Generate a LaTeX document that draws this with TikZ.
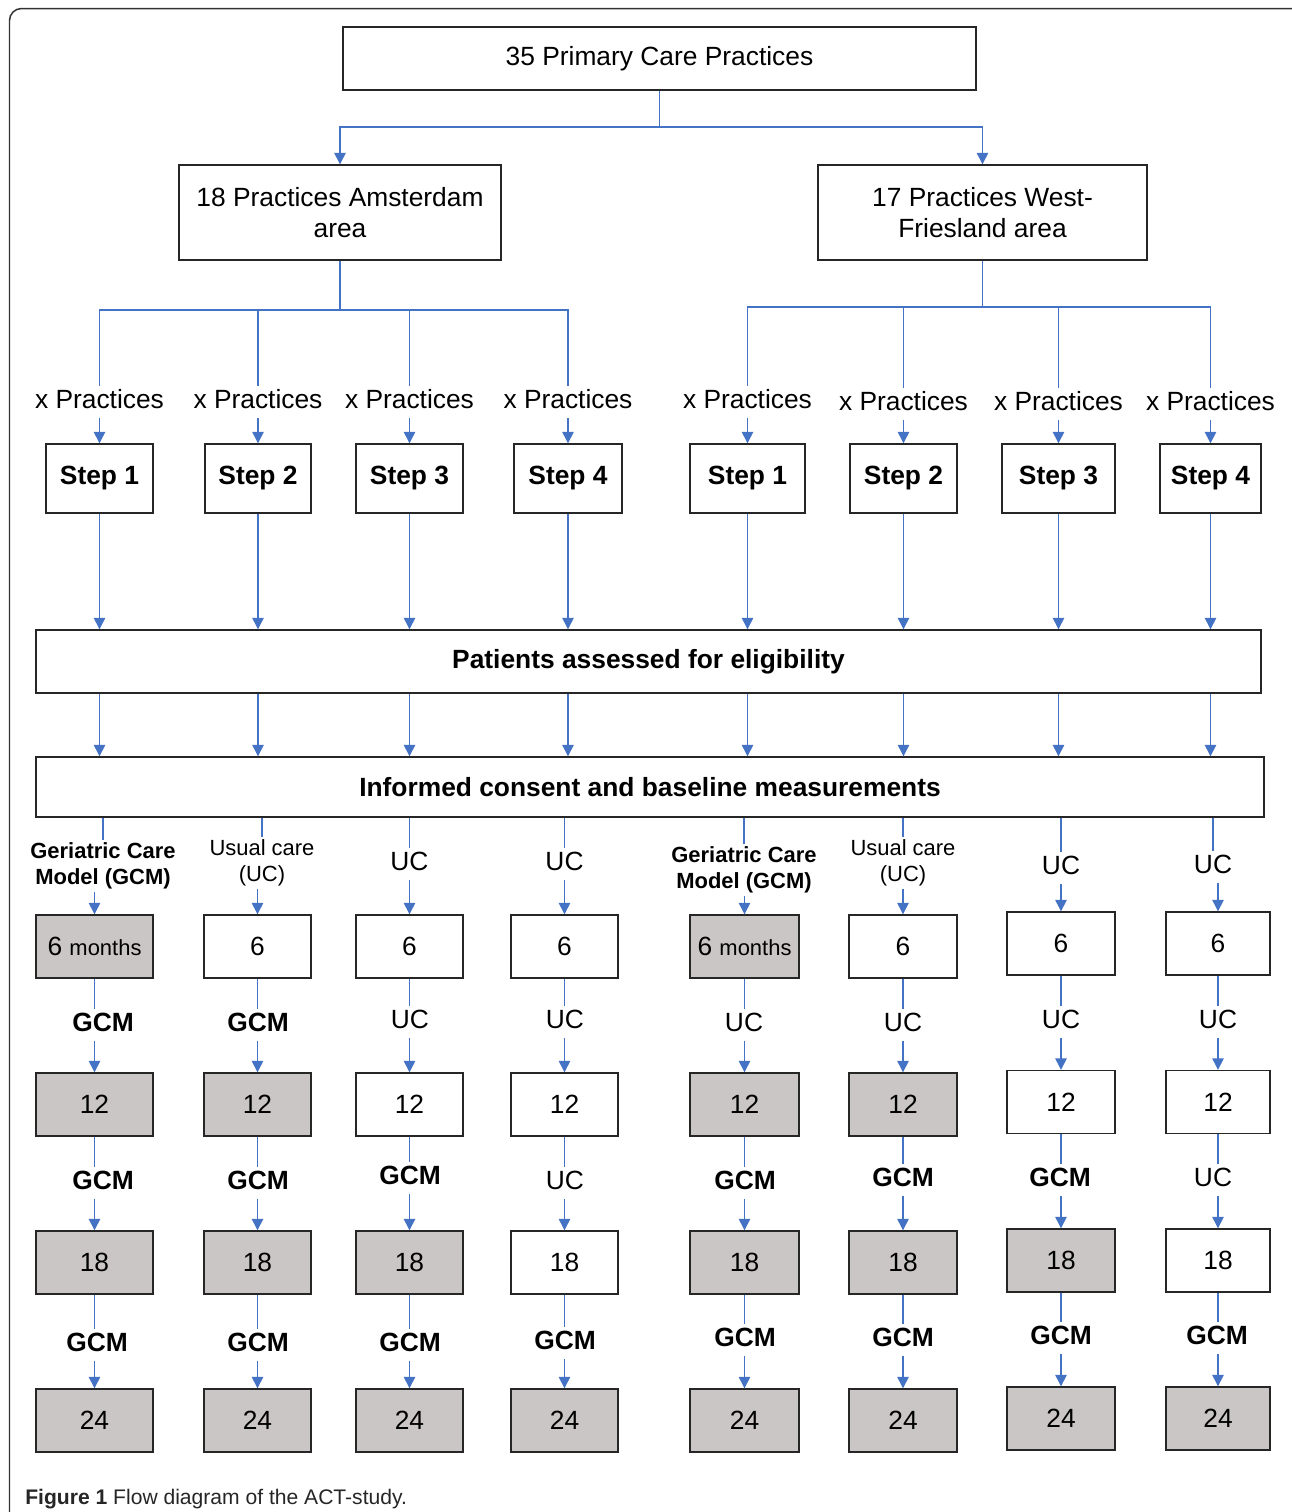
\documentclass[tikz,border=0pt]{standalone}
\usepackage{fontspec}
\setmainfont{Liberation Sans}
\usetikzlibrary{arrows.meta}
\definecolor{linkblue}{RGB}{68,114,196}
\definecolor{boxgray}{RGB}{201,198,197}
\newcommand{\txtmain}{\fontsize{15}{18}\selectfont}
\newcommand{\txtsmall}{\fontsize{12.5}{14.7}\selectfont}
\tikzset{
    box/.style={draw=black!85, line width=0.8pt, fill=white, inner sep=0pt, align=center, font=\txtmain}, % every framed box
    stepbox/.style={box, minimum height=1.38cm, font=\txtmain\bfseries},
    month/.style={box, minimum width=2.14cm, minimum height=1.26cm},
    gcmbox/.style={month, fill=boxgray}, % months under the Geriatric Care Model
    care/.style={inner sep=1.5pt, text height=11.2pt, text depth=3.5pt, font=\txtmain}, % labels on the lines
    gcm/.style={care, font=\txtmain\bfseries},
    arm/.style={inner sep=1.5pt, align=center, font=\txtsmall},
    flow/.style={draw=linkblue, line width=0.7pt},
    flowarrow/.style={flow, -{Triangle[length=6.5pt,width=6.5pt]}},
}

\begin{document}
\begin{tikzpicture}[x=0.02cm, y=-0.02cm]
  \useasboundingbox (0,0) rectangle (1292,1512);
  \draw[black!80, line width=0.85pt, rounded corners=0.24cm] (9.5,8.5) rectangle (1330,1560);

  % practices and regions
  \node[box, minimum width=12.66cm, minimum height=1.26cm] (top) at (659.5,58.5) {35 Primary Care Practices};
  \node[box, minimum width=6.44cm, minimum height=1.9cm] (ams) at (340,212.5) {18 Practices Amsterdam\\area};
  \node[box, minimum width=6.58cm, minimum height=1.9cm] (wf) at (982.5,212.5) {17 Practices West-\\Friesland area};
  \coordinate (fork) at (659.5,127);
  \coordinate (forka) at (340,310);
  \coordinate (forkw) at (982.5,307);

  % steps
  \node[care] (xa1) at (99.5,402) {x Practices};
  \node[care] (xa2) at (258,402) {x Practices};
  \node[care] (xa3) at (409.5,402) {x Practices};
  \node[care] (xa4) at (568,402) {x Practices};
  \node[care] (xw1) at (747.5,402) {x Practices};
  \node[care] (xw2) at (903.5,404) {x Practices};
  \node[care] (xw3) at (1058.5,404) {x Practices};
  \node[care] (xw4) at (1210.5,404) {x Practices};
  \node[stepbox, minimum width=2.14cm] (sa1) at (99.5,478.5) {Step 1};
  \node[stepbox, minimum width=2.12cm] (sa2) at (258,478.5) {Step 2};
  \node[stepbox, minimum width=2.14cm] (sa3) at (409.5,478.5) {Step 3};
  \node[stepbox, minimum width=2.16cm] (sa4) at (568,478.5) {Step 4};
  \node[stepbox, minimum width=2.30cm] (sw1) at (747.5,478.5) {Step 1};
  \node[stepbox, minimum width=2.14cm] (sw2) at (903.5,478.5) {Step 2};
  \node[stepbox, minimum width=2.26cm] (sw3) at (1058.5,478.5) {Step 3};
  \node[stepbox, minimum width=2.02cm] (sw4) at (1210.5,478.5) {Step 4};

  \node[box, minimum width=24.5cm, minimum height=1.26cm, font=\txtmain\bfseries] (elig) at (648.5,661.5) {Patients assessed for eligibility};
  \node[box, minimum width=24.56cm, minimum height=1.2cm, font=\txtmain\bfseries] (cons) at (650,787) {Informed consent and baseline measurements};

  % first arm label under consent
  \node[arm, font=\txtsmall\bfseries] (t11) at (103,866) {Geriatric Care\\Model (GCM)};
  \node[arm] (t21) at (262,863) {Usual care\\(UC)};
  \node[care] (t31) at (409.5,864) {UC};
  \node[care] (t41) at (564.5,864) {UC};
  \node[arm, font=\txtsmall\bfseries] (t51) at (744,870) {Geriatric Care\\Model (GCM)};
  \node[arm] (t61) at (903,863) {Usual care\\(UC)};
  \node[care] (t71) at (1061,868) {UC};
  \node[care] (t81) at (1213,867) {UC};

  % months, column by column
  \node[gcmbox, minimum width=2.34cm] (m11) at (94.5,946.5) {6 {\txtsmall months}};
  \node[gcm] (t12) at (103,1025) {GCM};
  \node[gcmbox, minimum width=2.34cm] (m12) at (94.5,1104.5) {12};
  \node[gcm] (t13) at (103,1183) {GCM};
  \node[gcmbox, minimum width=2.34cm] (m13) at (94.5,1262.5) {18};
  \node[gcm] (t14) at (97,1345) {GCM};
  \node[gcmbox, minimum width=2.34cm] (m14) at (94.5,1420.5) {24};

  \node[month] (m21) at (257.5,946.5) {6};
  \node[gcm] (t22) at (258,1025) {GCM};
  \node[gcmbox] (m22) at (257.5,1104.5) {12};
  \node[gcm] (t23) at (258,1183) {GCM};
  \node[gcmbox] (m23) at (257.5,1262.5) {18};
  \node[gcm] (t24) at (258,1345) {GCM};
  \node[gcmbox] (m24) at (257.5,1420.5) {24};

  \node[month] (m31) at (409.5,946.5) {6};
  \node[care] (t32) at (410,1022) {UC};
  \node[month] (m32) at (409.5,1104.5) {12};
  \node[gcm] (t33) at (410,1178) {GCM};
  \node[gcmbox] (m33) at (409.5,1262.5) {18};
  \node[gcm] (t34) at (410,1345) {GCM};
  \node[gcmbox] (m34) at (409.5,1420.5) {24};

  \node[month] (m41) at (564.5,946.5) {6};
  \node[care] (t42) at (565,1022) {UC};
  \node[month] (m42) at (564.5,1104.5) {12};
  \node[care] (t43) at (565,1183) {UC};
  \node[month] (m43) at (564.5,1262.5) {18};
  \node[gcm] (t44) at (565,1343) {GCM};
  \node[gcmbox] (m44) at (564.5,1420.5) {24};

  \node[gcmbox, minimum width=2.18cm] (m51) at (744.5,946.5) {6 {\txtsmall months}};
  \node[care] (t52) at (744,1025) {UC};
  \node[gcmbox, minimum width=2.18cm] (m52) at (744.5,1104.5) {12};
  \node[gcm] (t53) at (745,1183) {GCM};
  \node[gcmbox, minimum width=2.18cm] (m53) at (744.5,1262.5) {18};
  \node[gcm] (t54) at (745,1340) {GCM};
  \node[gcmbox, minimum width=2.18cm] (m54) at (744.5,1420.5) {24};

  \node[month, minimum width=2.16cm] (m61) at (903,946.5) {6};
  \node[care] (t62) at (903,1025) {UC};
  \node[gcmbox, minimum width=2.16cm] (m62) at (903,1104.5) {12};
  \node[gcm] (t63) at (903,1180) {GCM};
  \node[gcmbox, minimum width=2.16cm] (m63) at (903,1262.5) {18};
  \node[gcm] (t64) at (903,1340) {GCM};
  \node[gcmbox, minimum width=2.16cm] (m64) at (903,1420.5) {24};

  \node[month, minimum width=2.16cm] (m71) at (1061,943.5) {6};
  \node[care] (t72) at (1061,1022) {UC};
  \node[month, minimum width=2.16cm] (m72) at (1061,1102) {12};
  \node[gcm] (t73) at (1060,1180) {GCM};
  \node[gcmbox, minimum width=2.16cm] (m73) at (1061,1260.5) {18};
  \node[gcm] (t74) at (1061,1338) {GCM};
  \node[gcmbox, minimum width=2.16cm] (m74) at (1061,1418.5) {24};

  \node[month, minimum width=2.08cm] (m81) at (1218,943.5) {6};
  \node[care] (t82) at (1218,1022) {UC};
  \node[month, minimum width=2.08cm] (m82) at (1218,1102) {12};
  \node[care] (t83) at (1213,1180) {UC};
  \node[month, minimum width=2.08cm] (m83) at (1218,1260.5) {18};
  \node[gcm] (t84) at (1217,1338) {GCM};
  \node[gcmbox, minimum width=2.08cm] (m84) at (1218,1418.5) {24};

  % connectors
  \draw[flow] (top.south) -- (fork);
  \draw[flowarrow] (fork) -| (ams.north);
  \draw[flowarrow] (fork) -| (wf.north);
  \draw[flow] (ams.south) -- (forka);
  \draw[flow] (wf.south) -- (forkw);
  \foreach \i in {1,...,4} {
    \draw[flow] (forka) -| (xa\i.north);
    \draw[flow] (forkw) -| (xw\i.north);
    \draw[flowarrow] (xa\i.south) -- (sa\i.north);
    \draw[flowarrow] (xw\i.south) -- (sw\i.north);
    \draw[flowarrow] (sa\i.south) -- (sa\i.south |- elig.north);
    \draw[flowarrow] (sw\i.south) -- (sw\i.south |- elig.north);
    \draw[flowarrow] (elig.south -| sa\i) -- (cons.north -| sa\i);
    \draw[flowarrow] (elig.south -| sw\i) -- (cons.north -| sw\i);
  }
  \foreach \c in {1,...,8} {
    \draw[flow] (cons.south -| t\c1) -- (t\c1.north);
    \foreach \r in {1,...,4}
      \draw[flowarrow] (m\c\r.north |- t\c\r.south) -- (m\c\r.north);
    \foreach \r/\n in {1/2,2/3,3/4}
      \draw[flow] (m\c\r.south) -- (m\c\r.south |- t\c\n.north);
  }

  \node[anchor=base west, inner sep=0pt, font=\fontsize{12}{14}\selectfont, text=black!85] (caption) at (25,1504) {\textbf{Figure 1} Flow diagram of the ACT-study.};
\end{tikzpicture}
\end{document}
